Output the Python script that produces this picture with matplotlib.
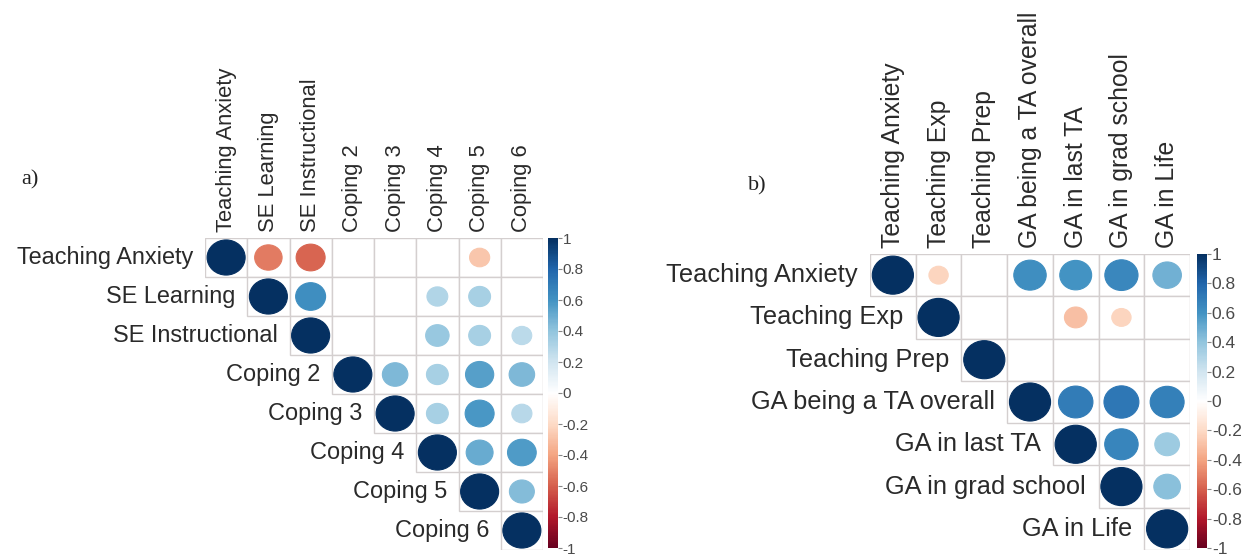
import matplotlib
matplotlib.use("Agg")
import matplotlib.pyplot as plt
import numpy as np
from matplotlib.colors import LinearSegmentedColormap, Normalize
from matplotlib.cm import ScalarMappable
from matplotlib.patches import Ellipse, Rectangle

plt.rcParams['font.family'] = ['Liberation Sans', 'DejaVu Sans']

W, H = 1245, 558

# panel a: teaching anxiety, self-efficacy and coping
a_labels = ["Teaching Anxiety", "SE Learning", "SE Instructional", "Coping 2",
            "Coping 3", "Coping 4", "Coping 5", "Coping 6"]
# upper triangle, row by row starting at the diagonal (None = not significant)
a_rows = [
    [1, -0.52, -0.58, None, None, None, -0.28, None],
    [1, 0.62, None, None, 0.30, 0.33, None],
    [1, None, None, 0.38, 0.33, 0.27],
    [1, 0.45, 0.33, 0.55, 0.45],
    [1, 0.33, 0.58, 0.28],
    [1, 0.50, 0.57],
    [1, 0.43],
    [1],
]

# panel b: teaching anxiety, experience and growth attitudes
b_labels = ["Teaching Anxiety", "Teaching Exp", "Teaching Prep",
            "GA being a TA overall", "GA in last TA", "GA in grad school", "GA in Life"]
b_rows = [
    [1, -0.22, None, 0.62, 0.60, 0.65, 0.48],
    [1, None, None, -0.30, -0.22, None],
    [1, None, None, None, None],
    [1, 0.70, 0.72, 0.68],
    [1, 0.66, 0.36],
    [1, 0.42],
    [1],
]

cbar_ticks = [1, 0.8, 0.6, 0.4, 0.2, 0, -0.2, -0.4, -0.6, -0.8, -1]

# corrplot style red-white-blue palette
cmap = LinearSegmentedColormap.from_list("rdbu", [
    "#67001F", "#B2182B", "#D6604D", "#F4A582", "#FDDBC7", "#FFFFFF",
    "#D1E5F0", "#92C5DE", "#4393C3", "#2166AC", "#053061"])
norm = Normalize(-1, 1)


def box(x0, y0, x1, y1):
    # pixel box (top-left origin) -> figure fraction rect
    return [x0 / W, 1 - y1 / H, (x1 - x0) / W, (y1 - y0) / H]


def panel(fig, grid, cbar, labels, rows, rfs, cfs, bfs, tag, tag_xy):
    n = len(labels)
    ax = fig.add_axes(box(*grid))
    ax.set_xlim(0, n)
    ax.set_ylim(n, 0)
    ax.axis("off")

    for i, row in enumerate(rows):
        for k, r in enumerate(row):
            j = i + k
            ax.add_patch(Rectangle((j, i), 1, 1, facecolor="white",
                                   edgecolor="#d4cfcf", lw=1.0, zorder=1))
            if r is None:
                continue
            d = 0.9 * np.sqrt(abs(r))
            c = cmap(norm(r))
            ax.add_patch(Ellipse((j + 0.5, i + 0.5), d, d, facecolor=c,
                                 edgecolor=c, lw=0.8, zorder=2))
        ax.text(i - 0.27, i + 0.5, labels[i], ha="right", va="center",
                fontsize=rfs, color="#2a2a2a", clip_on=False)
        ax.text(i + 0.5, -0.15, labels[i], ha="center", va="bottom",
                rotation=90, fontsize=cfs, color="#2a2a2a", clip_on=False)

    cax = fig.add_axes(box(*cbar))
    cb = fig.colorbar(ScalarMappable(norm=norm, cmap=cmap), cax=cax)
    cb.outline.set_visible(False)
    cb.set_ticks(cbar_ticks)
    cb.set_ticklabels([("%g" % t) for t in cbar_ticks])
    cax.tick_params(length=3, width=0.8, color="#888888", pad=0.5,
                    labelsize=bfs, labelcolor="#4a4a4a")

    fig.text(tag_xy[0] / W, 1 - tag_xy[1] / H, tag, family="Liberation Serif",
             fontsize=16, color="#222222", ha="left", va="center")


fig = plt.figure(figsize=(W / 100, H / 100), dpi=100)
fig.patch.set_facecolor("white")

panel(fig, (205, 238, 543, 550), (548, 238, 558, 548), a_labels, a_rows,
      16.9, 15.8, 11, "a)", (21, 180))
panel(fig, (870, 254, 1190, 550), (1197, 254, 1207, 548), b_labels, b_rows,
      18.3, 17.8, 12.5, "b)", (748, 186))

fig.savefig("out.png", dpi=100, facecolor="white")
